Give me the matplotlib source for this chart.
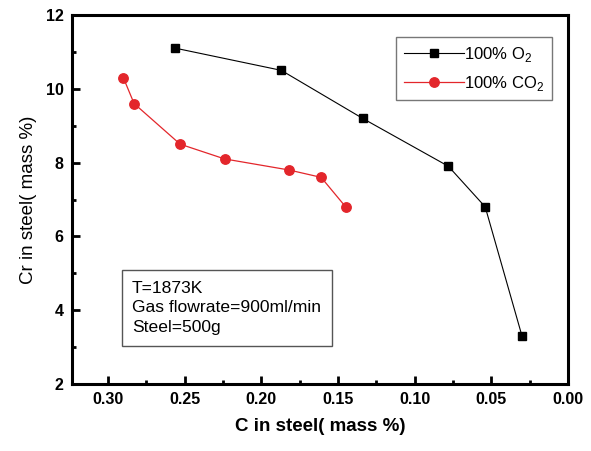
import matplotlib
matplotlib.use('Agg')
import matplotlib.pyplot as plt
from matplotlib.ticker import MultipleLocator

plt.rcParams['font.family'] = ['Liberation Sans', 'DejaVu Sans']
plt.rcParams['mathtext.fontset'] = 'custom'
plt.rcParams['mathtext.rm'] = 'Liberation Sans'

# 100% O2 series
c_o2 = [0.256, 0.187, 0.134, 0.078, 0.054, 0.030]
cr_o2 = [11.1, 10.5, 9.2, 7.9, 6.8, 3.3]

# 100% CO2 series
c_co2 = [0.290, 0.283, 0.253, 0.224, 0.182, 0.161, 0.145]
cr_co2 = [10.3, 9.6, 8.5, 8.1, 7.8, 7.6, 6.8]

fig = plt.figure(figsize=(5.91, 4.51), dpi=100)
ax = fig.add_axes([72 / 591, 1 - 384 / 451, (568 - 72) / 591, (384 - 15) / 451])

ax.plot(c_o2, cr_o2, color='black', lw=0.8, marker='s', ms=6, mec='black', mfc='black',
        label='100% O$_2$')
ax.plot(c_co2, cr_co2, color='#e3262b', lw=0.9, marker='o', ms=6.8, mec='#e3262b', mfc='#e3262b',
        label='100% CO$_2$')

ax.set_xlim(0.3235, 0.0)
ax.set_ylim(2, 12)
ax.xaxis.set_major_locator(MultipleLocator(0.05))
ax.xaxis.set_minor_locator(MultipleLocator(0.025))
ax.yaxis.set_major_locator(MultipleLocator(2))
ax.yaxis.set_minor_locator(MultipleLocator(1))
ax.xaxis.set_major_formatter(plt.FuncFormatter(lambda v, p: '%.2f' % abs(v)))

for s in ax.spines.values():
    s.set_linewidth(2.2)
ax.tick_params(which='major', direction='in', length=6, width=2, labelsize=11.5, pad=6)
ax.tick_params(which='minor', direction='in', length=3, width=2)
for lab in ax.get_xticklabels() + ax.get_yticklabels():
    lab.set_fontweight('bold')

ax.set_xlabel('C in steel( mass %)', fontsize=13.5, fontweight='bold', labelpad=8)
ax.set_ylabel('Cr in steel( mass %)', fontsize=13.5, labelpad=6)

leg = ax.legend(loc='upper right', bbox_to_anchor=(0.968, 0.94), borderaxespad=0,
                fontsize=12, frameon=True, fancybox=False, edgecolor='#555555',
                handlelength=3.6, borderpad=0.45, labelspacing=0.6, handletextpad=0.05)
leg.get_frame().set_linewidth(1.0)

ax.text(0.121, 0.206, 'T=1873K\nGas flowrate=900ml/min\nSteel=500g', transform=ax.transAxes,
        fontsize=12.6, va='center', ha='left', linespacing=1.4,
        bbox=dict(boxstyle='square,pad=0.6', fc='white', ec='#555555', lw=1.0))

fig.savefig('out.png', dpi=100)
